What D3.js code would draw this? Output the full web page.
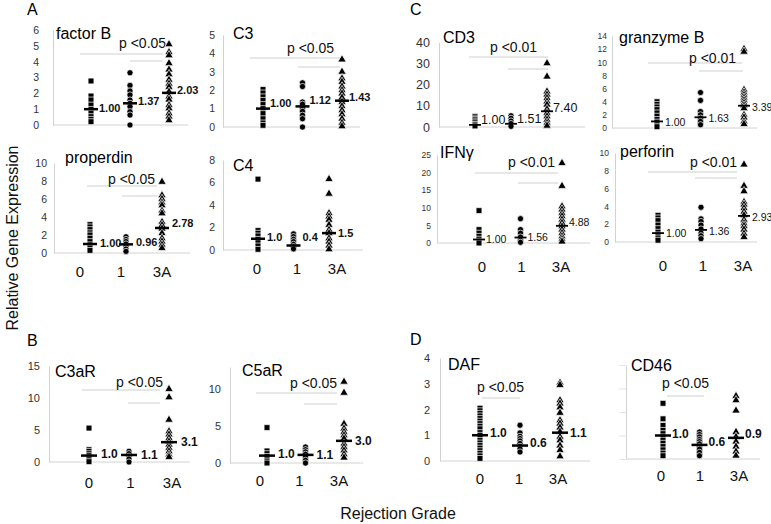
<!DOCTYPE html>
<html>
<head>
<meta charset="utf-8">
<script src="https://cdn.jsdelivr.net/npm/d3@7"></script>
<style>
  body { margin: 0; background: #fff; }
  svg { display: block; font-family: "Liberation Sans", Arial, sans-serif; }
</style>
</head>
<body>
<svg id="chart" width="771" height="524"></svg>
<script>
/*
* Complement / cytotoxic gene expression by rejection grade
*/

const FONT = '"Liberation Sans", Arial, sans-serif';
const grades = ['0', '1', '3A'];

// values per grade: [grade 0, grade 1, grade 3A]
const factorB = [
  [2.78, 1.83, 1.58, 1.26, 0.99, 0.74, 0.53, 0.36, 0.21],
  [3.3, 2.5, 2.15, 1.9, 1.58, 1.37, 1.16, 0.84, 0.63, 0],
  [5.1, 4.6, 4.4, 3.9, 3.5, 3.2, 2.85, 2.6, 2.4, 2.1, 1.8, 1.6, 1.26, 1.05, 0.74, 0.53, 0.3]
];
const factorBMeans = [1.00, 1.37, 2.03];

const c3 = [
  [2.04, 1.85, 1.64, 1.45, 1.22, 1.0, 0.73, 0.45, 0.22, 0.09],
  [2.4, 2.2, 1.36, 1.24, 1.0, 0.85, 0.64, 0.45, 0],
  [3.67, 3.0, 2.64, 2.45, 2.2, 2.0, 1.82, 1.6, 1.36, 1.13, 0.91, 0.69, 0.45, 0.22, 0.04]
];
const c3Means = [1.00, 1.12, 1.43];

const properdin = [
  [3.16, 2.9, 2.6, 2.25, 2.0, 1.64, 1.27, 0.91, 0.55, 0.29],
  [1.8, 1.5, 1.27, 1.0, 0.73, 0.44, 0.18],
  [7.9, 6.4, 6.0, 5.6, 5.3, 4.7, 4.4, 3.45, 3.1, 2.7, 2.2, 1.64, 1.27, 0.91, 0.55]
];
const properdinMeans = [1.00, 0.96, 2.78];

const c4 = [
  [6.3, 1.73, 1.49, 1.25, 0.95, 0.65, 0.36, 0.06],
  [1.43, 1.19, 0.95, 0.74, 0.5, 0.3, 0.1],
  [6.3, 5.0, 3.27, 2.98, 2.68, 2.23, 1.79, 1.49, 1.04, 0.74, 0.39, 0.06]
];
const c4Means = [1.0, 0.4, 1.5];

const c3aR = [
  [5.3, 1.93, 1.67, 1.3, 0.99, 0.63, 0.36, 0.05],
  [1.67, 1.3, 0.9, 0.47, 0],
  [11.4, 10.1, 6.6, 4.8, 4.3, 3.75, 3.2, 2.7, 2.2, 1.67, 1.15, 0.78]
];
const c3aRMeans = [1.0, 1.1, 3.1];

const c5aR = [
  [4.8, 1.63, 1.27, 0.9, 0.59, 0.27, 0],
  [2.17, 1.8, 1.5, 1.18, 0.81, 0.36, 0],
  [11.0, 9.5, 5.3, 4.66, 4.2, 3.75, 3.3, 2.6, 2.17, 1.7, 1.18, 0.72]
];
const c5aRMeans = [1.0, 1.1, 3.0];

const cd3 = [
  [5.0, 4.2, 3.5, 2.8, 2.0, 1.2, 0.5],
  [5.3, 4.1, 2.8, 1.6, 0.3],
  [30, 23.7, 16.7, 15.2, 13.6, 12, 10.5, 8.4, 6.6, 5, 3.4, 1.9, 0.6]
];
const cd3Means = [1.00, 1.51, 7.40];

const granzymeB = [
  [4.0, 3.6, 3.2, 2.8, 2.3, 1.8, 1.3, 0.9, 0.5, 0.2],
  [5.4, 4.2, 2.5, 2.0, 1.5, 1.0, 0.5],
  [12.0, 11.6, 5.8, 5.4, 5.0, 4.6, 4.2, 3.8, 3.4, 3.0, 2.0, 1.6, 1.0, 0.6]
];
const granzymeBMeans = [1.00, 1.63, 3.39];

const ifng = [
  [9.2, 3.8, 2.8, 1.9, 1.1, 0.5, 0],
  [6.9, 3.8, 2.8, 1.7, 0.75, 0.2],
  [22.7, 16.2, 10.4, 9.5, 8.5, 7.6, 6.6, 5.7, 4.7, 3.8, 2.8, 1.9, 1.1, 0.4]
];
const ifngMeans = [1.00, 1.56, 4.88];

const perforin = [
  [3.0, 2.7, 2.4, 1.9, 1.5, 1.1, 0.8, 0.45, 0.2],
  [3.9, 2.6, 2.3, 1.9, 1.46, 1.0, 0.7, 0.37],
  [8.7, 6.3, 5.7, 4.5, 4.2, 3.8, 3.4, 3.0, 2.5, 2.1, 1.8, 1.4, 0.94, 0.56]
];
const perforinMeans = [1.00, 1.36, 2.93];

const daf = [
  [2.05, 1.95, 1.85, 1.75, 1.65, 1.55, 1.45, 1.35, 1.25, 1.1, 1.0, 0.9, 0.8, 0.7, 0.6, 0.5, 0.4, 0.3, 0.2, 0.1],
  [1.39, 1.09, 0.96, 0.87, 0.78, 0.68, 0.57, 0.47, 0.35],
  [3.04, 2.95, 2.36, 2.23, 2.08, 1.87, 1.58, 1.45, 1.3, 1.13, 0.94, 0.8, 0.6, 0.42, 0.18]
];
const dafMeans = [1.0, 0.6, 1.1];

const cd46 = [
  [2.37, 1.71, 1.43, 1.22, 1.08, 0.94, 0.8, 0.67, 0.53, 0.39, 0.25, 0.14],
  [1.15, 1.04, 0.94, 0.83, 0.74, 0.64, 0.53, 0.42, 0.28, 0.14],
  [2.68, 2.5, 2.06, 1.15, 0.94, 0.74, 0.53, 0.32, 0.14]
];
const cd46Means = [1.0, 0.6, 0.9];

// styles per figure block
const styleA = { tick: 10.5, label: 11, bold: true, bar: 7, barW: 2.5 };
const styleC = { tick: 8.5, label: 10.5, bold: false, bar: 6, barW: 1.8 };
const styleCD3 = { tick: 12.5, label: 12.5, bold: false, bar: 6, barW: 1.8 };
const styleBD = { tick: 11, label: 12, bold: true, bar: 8, barW: 2.5 };

// layout: axis x, axis end, y of zero, y of top, column centres (first, last), tick label gap
const panels = [
  { name: 'factor B', values: factorB, means: factorBMeans, fmt: '.2f', ymax: 6, ticks: d3.range(0, 7),
    ax: 53, xEnd: 188, y0: 125, yTop: 30, cols: [91, 169], title: [56, 39], pad: 14,
    p: { text: 'p <0.05', x: 119, y: 48, lines: [[80, 163, 54], [130, 163, 61]] },
    dx: 8, dy: [-1, -2, -3], style: styleA },
  { name: 'C3', values: c3, means: c3Means, fmt: '.2f', ymax: 5, ticks: d3.range(0, 6),
    ax: 223, xEnd: 360, y0: 127, yTop: 35, cols: [263, 342], title: [233, 39], pad: 8,
    p: { text: 'p <0.05', x: 287, y: 53, lines: [[250, 340, 58], [298, 340, 67]] },
    dx: 7, dy: [-5, -6, -4], style: styleA },
  { name: 'properdin', values: properdin, means: properdinMeans, fmt: '.2f', ymax: 10, ticks: d3.range(0, 11, 2),
    ax: 54, xEnd: 190, y0: 253, yTop: 163, cols: [90, 162], title: [65, 163], pad: 7,
    p: { text: 'p <0.05', x: 108, y: 184, lines: [[87, 157, 186], [122, 157, 196]] },
    dx: 10, dy: [-1, -2, -5], style: styleA },
  { name: 'C4', values: c4, means: c4Means, fmt: '.1f', ymax: 8, ticks: d3.range(0, 9, 2),
    ax: 223, xEnd: 363, y0: 250, yTop: 160, cols: [258, 329], title: [233, 171], pad: 8,
    p: null, dx: 9, dy: [-2, -8, 0], style: styleA },
  { name: 'C3aR', values: c3aR, means: c3aRMeans, fmt: '.1f', ymax: 15, ticks: [0, 5, 10, 15],
    ax: 49, xEnd: 190, y0: 462, yTop: 366, cols: [89, 169], title: [55, 377], pad: 9,
    p: { text: 'p <0.05', x: 116, y: 387, lines: [[82, 160, 390], [128, 160, 403]] },
    dx: 12, dy: [-2, 0, 0], style: styleBD },
  { name: 'C5aR', values: c5aR, means: c5aRMeans, fmt: '.1f', ymax: 13, ticks: [0, 5, 10],
    ax: 230, xEnd: 363, y0: 463, yTop: 367, cols: [267, 344], title: [242, 376], pad: 9,
    p: { text: 'p <0.05', x: 290, y: 388, lines: [[256, 337, 393], [304, 337, 404]] },
    dx: 11, dy: [-2, 0, 0], style: styleBD },
  { name: 'CD3', values: cd3, means: cd3Means, fmt: '.2f', ymax: 40, ticks: d3.range(0, 41, 10),
    ax: 439, xEnd: 585, y0: 127, yTop: 42, cols: [475, 547], title: [443, 43], pad: 9,
    p: { text: 'p <0.01', x: 490, y: 52, lines: [[469, 548, 57], [508, 548, 69]] },
    dx: 6, dy: [-5, -5, -4], style: styleCD3 },
  { name: 'granzyme B', values: granzymeB, means: granzymeBMeans, fmt: '.2f', ymax: 14, ticks: d3.range(0, 15, 2),
    ax: 612, xEnd: 757, y0: 128, yTop: 36, cols: [657, 744], title: [619, 43], pad: 5,
    p: { text: 'p <0.01', x: 689, y: 63, lines: [[648, 742, 63], [699, 743, 71]] },
    dx: 8, dy: [1, 1, 2], style: styleC },
  { name: 'IFN\u03b3', values: ifng, means: ifngMeans, fmt: '.2f', ymax: 25, ticks: d3.range(0, 26, 5),
    ax: 437, xEnd: 590, y0: 243, yTop: 155, cols: [479, 562], title: [440, 158], pad: 6,
    p: { text: 'p <0.01', x: 508, y: 167, lines: [[475, 558, 173], [518, 558, 183]] },
    dx: 7, dy: [0, 0, -3], style: styleC },
  { name: 'perforin', values: perforin, means: perforinMeans, fmt: '.2f', ymax: 10, ticks: d3.range(0, 11, 2),
    ax: 615, xEnd: 757, y0: 242, yTop: 153, cols: [658, 744], title: [620, 157], pad: 6,
    p: { text: 'p <0.01', x: 690, y: 167, lines: [[648, 737, 172], [695, 737, 178]] },
    dx: 8, dy: [0, 1, 1], style: styleC },
  { name: 'DAF', values: daf, means: dafMeans, fmt: '.1f', ymax: 4, ticks: d3.range(0, 5),
    ax: 440, xEnd: 590, y0: 461, yTop: 358, cols: [480, 560], title: [448, 370], pad: 10,
    p: { text: 'p <0.05', x: 477, y: 392, lines: [[482, 520, 398]] },
    dx: 10, dy: [-2, -3, 0], style: styleBD },
  { name: 'CD46', values: cd46, means: cd46Means, fmt: '.1f', ymax: 4, ticks: d3.range(0, 5),
    ax: 626, xEnd: 760, y0: 459, yTop: 365, cols: [663, 736], title: [631, 371], pad: 0,
    p: { text: 'p <0.05', x: 662, y: 388, lines: [[667, 704, 396]] },
    dx: 9, dy: [-2, -3, -4], noLabels: true, style: styleBD }
];

// category label rows under the bottom panels
const gradeRows = [
  { range: [80, 162], y: 277 },
  { range: [257, 337], y: 274 },
  { range: [482, 561], y: 272 },
  { range: [663, 743], y: 271 },
  { range: [89, 172], y: 488 },
  { range: [260, 339], y: 486 },
  { range: [480, 558], y: 484 },
  { range: [661, 739], y: 481 }
];

const blockLetters = [
  { text: 'A', x: 27, y: 15 },
  { text: 'B', x: 27, y: 346 },
  { text: 'C', x: 410, y: 15 },
  { text: 'D', x: 410, y: 345 }
];

const shapes = [d3.symbolSquare, d3.symbolCircle, d3.symbolTriangle];
const shapeSize = [34, 30, 30];
const AXIS_GREY = '#d2d2d2';

const svg = d3.select('#chart');
svg.append('rect').attr('width', 771).attr('height', 524).attr('fill', '#fff');

panels.forEach(function (p) {
  let g = svg.append('g').attr('class', 'panel');
  let y = d3.scaleLinear().domain([0, p.ymax]).range([p.y0, p.yTop]);
  let x = d3.scalePoint().domain(grades).range(p.cols);

  // baseline
  g.append('line')
    .attr('x1', p.ax).attr('x2', p.xEnd)
    .attr('y1', p.y0).attr('y2', p.y0)
    .attr('stroke', AXIS_GREY);

  // only the unlabelled CD46 axis shows tick marks
  let axis = d3.axisLeft(y).tickValues(p.ticks)
    .tickSize(p.noLabels ? 7 : 0).tickSizeOuter(0).tickPadding(p.pad)
    .tickFormat(p.noLabels ? '' : d3.format('d'));
  let ag = g.append('g')
    .attr('transform', 'translate(' + p.ax + ',0)')
    .call(axis)
    .attr('font-family', FONT)
    .attr('font-size', p.style.tick);
  ag.select('.domain').attr('stroke', AXIS_GREY);
  ag.selectAll('.tick line').attr('stroke', '#e4e4e4');
  ag.selectAll('.tick text').attr('fill', '#333');

  // significance brackets
  if (p.p) {
    g.selectAll(null).data(p.p.lines).join('line')
      .attr('x1', d => d[0]).attr('x2', d => d[1])
      .attr('y1', d => d[2]).attr('y2', d => d[2])
      .attr('stroke', '#cfcfcf');
    g.append('text')
      .attr('x', p.p.x).attr('y', p.p.y)
      .style('font-size', '14px')
      .attr('fill', '#111')
      .text(p.p.text);
  }

  // title
  g.append('text')
    .attr('x', p.title[0]).attr('y', p.title[1])
    .style('font-size', '16px')
    .attr('fill', '#000')
    .text(p.name);

  // points
  p.values.forEach(function (vals, i) {
    g.append('g').selectAll('path').data(vals).join('path')
      .attr('transform', v => 'translate(' + x(grades[i]) + ',' + y(v) + ')')
      .attr('d', d3.symbol(shapes[i], shapeSize[i]))
      .attr('fill', '#000')
      .attr('stroke', '#fff')
      .attr('stroke-width', 0.7);
  });

  // mean bars
  g.selectAll(null).data(p.means).join('line')
    .attr('x1', (m, i) => x(grades[i]) - p.style.bar)
    .attr('x2', (m, i) => x(grades[i]) + p.style.bar)
    .attr('y1', m => y(m)).attr('y2', m => y(m))
    .attr('stroke', '#000')
    .attr('stroke-width', p.style.barW);

  // mean labels
  let fmt = d3.format(p.fmt);
  g.selectAll(null).data(p.means).join('text')
    .attr('x', (m, i) => x(grades[i]) + p.dx)
    .attr('y', (m, i) => y(m) + p.dy[i])
    .attr('dy', '0.35em')
    .style('font-size', p.style.label + 'px')
    .style('font-weight', p.style.bold ? 'bold' : 'normal')
    .attr('fill', '#111')
    .text(m => fmt(m));
});

// grade labels
gradeRows.forEach(function (row) {
  let x = d3.scalePoint().domain(grades).range(row.range);
  svg.append('g').selectAll('text').data(grades).join('text')
    .attr('x', d => x(d))
    .attr('y', row.y)
    .attr('text-anchor', 'middle')
    .style('font-size', '15px')
    .attr('fill', '#111')
    .text(d => d);
});

svg.selectAll('.block-letter').data(blockLetters).join('text')
  .attr('class', 'block-letter')
  .attr('x', d => d.x).attr('y', d => d.y)
  .style('font-size', '16px')
  .attr('fill', '#000')
  .text(d => d.text);

// axis titles
svg.append('text')
  .attr('transform', 'translate(18,238) rotate(-90)')
  .attr('text-anchor', 'middle')
  .style('font-size', '16px')
  .attr('fill', '#111')
  .text('Relative Gene Expression');

svg.append('text')
  .attr('x', 398).attr('y', 519)
  .attr('text-anchor', 'middle')
  .style('font-size', '16px')
  .attr('fill', '#111')
  .text('Rejection Grade');
</script>
</body>
</html>
